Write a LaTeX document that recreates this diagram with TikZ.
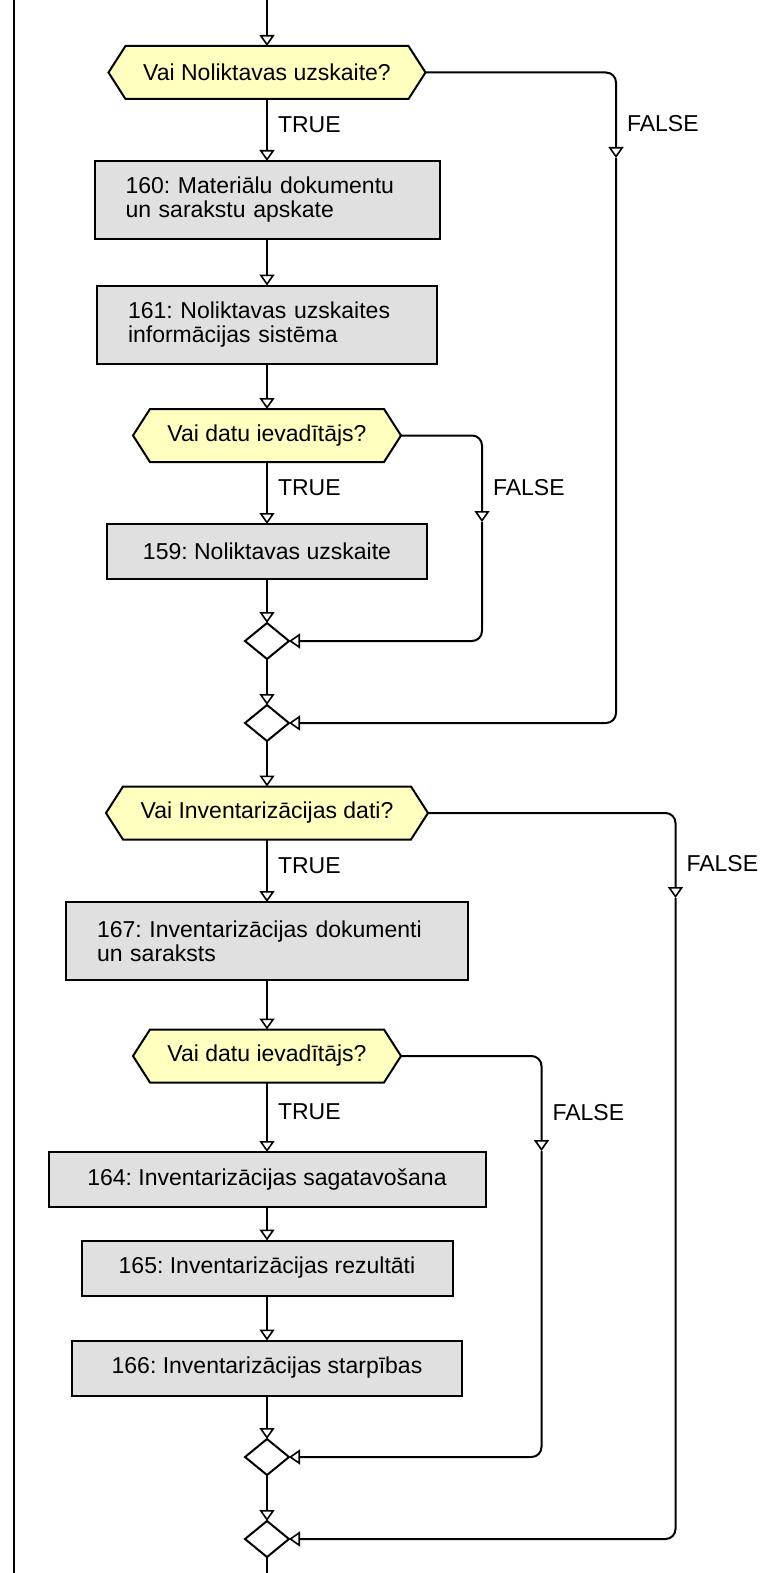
\documentclass[tikz,border=0pt]{standalone}
\usepackage{fontspec}
\setmainfont{Liberation Sans}
\usetikzlibrary{arrows.meta,shapes.geometric}
\definecolor{hexyellow}{HTML}{FFFFC0}
\definecolor{boxgray}{HTML}{E0E0E0}
\frenchspacing
\newcommand{\txtfont}{\fontsize{23}{24}\selectfont}
\tikzset{
  line/.style={line width=2pt, draw=black},
  flow/.style={line, -{Triangle[open, length=11pt, width=15pt, line width=1.6pt]}},
  procbox/.style={draw=black, line width=2pt, fill=boxgray, rectangle, minimum height=55pt,
    inner sep=0pt, outer sep=0pt, font=\txtfont},
  twoline/.style={procbox, minimum height=78pt, align=left, inner xsep=31pt},
  hexshape/.style={draw=black, line width=2pt, fill=hexyellow, line join=miter},
  hexlabel/.style={rectangle, inner sep=0pt, outer sep=0pt, minimum height=53pt, font=\txtfont},
  merge/.style={diamond, draw=black, line width=2pt, fill=white, minimum width=44pt,
    minimum height=36pt, inner sep=0pt, outer sep=0pt},
  lbl/.style={font=\txtfont, anchor=west, inner sep=0pt, xshift=10pt},
  rc/.style={rounded corners=10pt},
}
\newcommand{\hexdecision}[4]{%
  \filldraw[hexshape] (267-#3,#2) -- (267-#3+17,#2-26.5) -- (267+#3-17,#2-26.5)
    -- (267+#3,#2) -- (267+#3-17,#2+26.5) -- (267-#3+17,#2+26.5) -- cycle;
  \node[hexlabel, minimum width=#3*2pt] (#1) at (267,#2) {#4};
}
\begin{document}
\begin{tikzpicture}[x=1pt,y=-1pt]
\useasboundingbox (0,0) rectangle (776,1573);
% left border line
\coordinate (lt) at (14,0);
\coordinate (lb) at (14,1573);
\draw[line width=2.5pt] (lt) -- (lb);

\coordinate (top) at (267,0);
\coordinate (bot) at (267,1573);

% decisions
\hexdecision{d1}{72.5}{158.5}{Vai Noliktavas uzskaite?}
\hexdecision{d2}{435.5}{134}{Vai datu ievadītājs?}
\hexdecision{d3}{813}{161}{Vai Inventarizācijas dati?}
\hexdecision{d4}{1056}{134}{Vai datu ievadītājs?}

% process boxes
\node[twoline, text width=283pt] (b160) at (267,200) {160: Materiālu dokumentu\\un sarakstu apskate};
\node[twoline, text width=278pt] (b161) at (267,324.5) {161: Noliktavas uzskaites\\informācijas sistēma};
\node[procbox, minimum width=320pt] (b159) at (267,551.5) {159: Noliktavas uzskaite};
\node[twoline, text width=340pt] (b167) at (267,941) {167: Inventarizācijas dokumenti\\un saraksts};
\node[procbox, minimum width=437pt] (b164) at (267,1179.5) {164: Inventarizācijas sagatavošana};
\node[procbox, minimum width=371pt] (b165) at (267,1268) {165: Inventarizācijas rezultāti};
\node[procbox, minimum width=390pt] (b166) at (267,1368) {166: Inventarizācijas starpības};

% merge diamonds
\node[merge] (m1) at (267,641) {};
\node[merge] (m2) at (267,723) {};
\node[merge] (m3) at (267,1457) {};
\node[merge] (m4) at (267,1539) {};

% main axis
\draw[flow] (top) -- (d1.north);
\draw[flow] (d1.south) -- node[lbl, pos=0.42] {TRUE} (b160.north);
\draw[flow] (b160.south) -- (b161.north);
\draw[flow] (b161.south) -- (d2.north);
\draw[flow] (d2.south) -- node[lbl, pos=0.42] {TRUE} (b159.north);
\draw[flow] (b159.south) -- (m1.north);
\draw[flow] (m1.south) -- (m2.north);
\draw[flow] (m2.south) -- (d3.north);
\draw[flow] (d3.south) -- node[lbl, pos=0.42] {TRUE} (b167.north);
\draw[flow] (b167.south) -- (d4.north);
\draw[flow] (d4.south) -- node[lbl, pos=0.42] {TRUE} (b164.north);
\draw[flow] (b164.south) -- (b165.north);
\draw[flow] (b165.south) -- (b166.north);
\draw[flow] (b166.south) -- (m3.north);
\draw[flow] (m3.south) -- (m4.north);
\draw[line] (m4.south) -- (bot);

% FALSE branches
\coordinate (f1) at (616,158);
\draw[flow, rc] (d1.east) -| node[lbl, pos=0.8] {FALSE} (f1);
\draw[flow, rc] (f1) |- (m2.east);

\coordinate (f2) at (482,522);
\draw[flow, rc] (d2.east) -| node[lbl, pos=0.8] {FALSE} (f2);
\draw[flow, rc] (f2) |- (m1.east);

\coordinate (f3) at (675.5,898);
\draw[flow, rc] (d3.east) -| node[lbl, pos=0.8] {FALSE} (f3);
\draw[flow, rc] (f3) |- (m4.east);

\coordinate (f4) at (541.5,1151);
\draw[flow, rc] (d4.east) -| node[lbl, pos=0.8] {FALSE} (f4);
\draw[flow, rc] (f4) |- (m3.east);
\end{tikzpicture}
\end{document}
